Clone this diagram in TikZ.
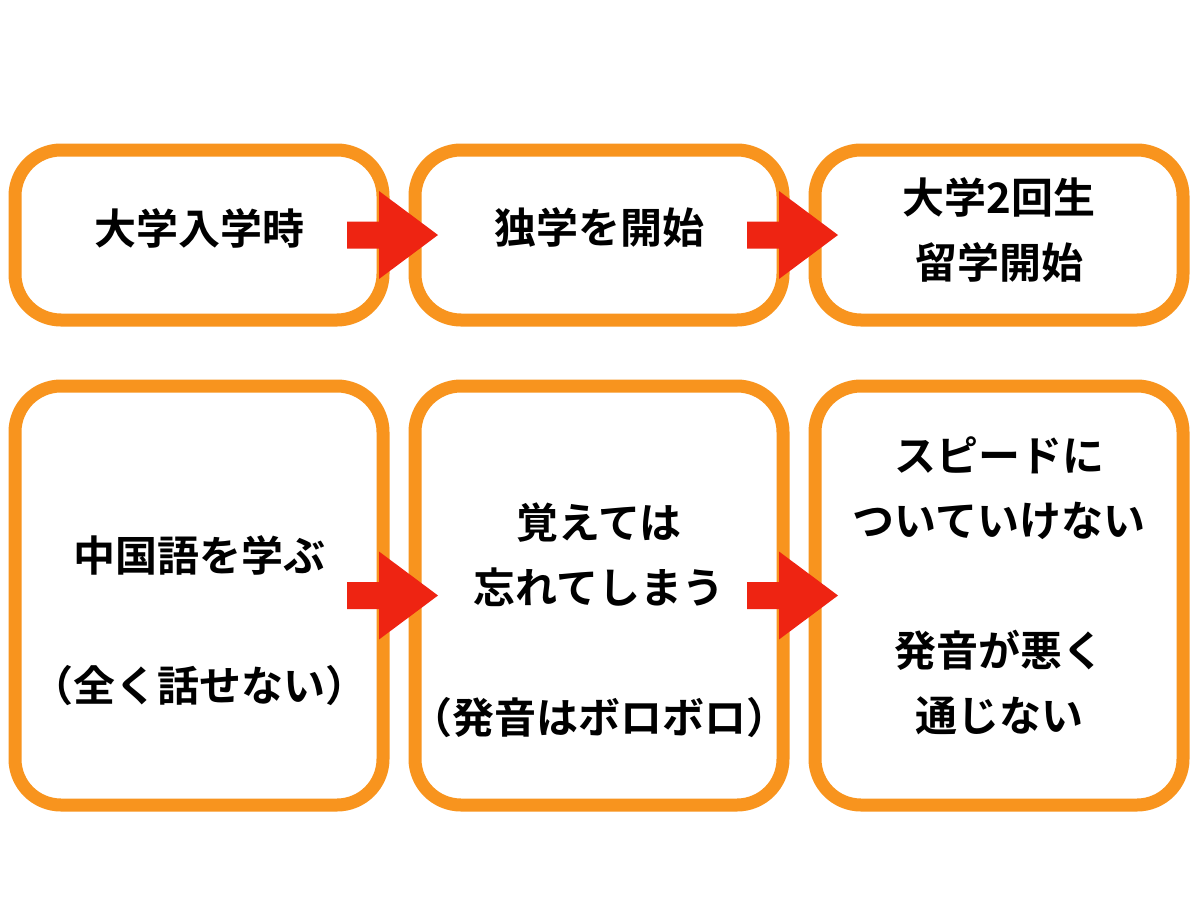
\documentclass[tikz,border=0pt]{standalone}
\usepackage{fontspec}
\usepackage{tikz}
\usetikzlibrary{positioning,calc}
\newfontfamily\jpfont{Noto Sans CJK JP Bold}
\definecolor{frameclr}{RGB}{248,148,30}
\definecolor{arrowclr}{RGB}{238,36,18}
\tikzset{
  stagebox/.style={rectangle,draw=frameclr,line width=13pt,fill=white,
                   rounded corners=46pt,minimum width=368pt,inner sep=0pt},
  topbox/.style={stagebox,minimum height=170pt},
  lowbox/.style={stagebox,minimum height=419pt},
  label/.style={align=center,inner sep=0pt,
                font=\jpfont\fontsize{42}{65}\selectfont},
}
% block arrow centred on a coordinate
\newcommand{\blockarrow}[1]{%
  \fill[arrowclr] ([shift={(-52,-13.5)}]#1) -- ([shift={(-20,-13.5)}]#1)
    -- ([shift={(-20,-44)}]#1) -- ([shift={(39,0)}]#1)
    -- ([shift={(-20,44)}]#1) -- ([shift={(-20,13.5)}]#1)
    -- ([shift={(-52,13.5)}]#1) -- cycle;}

\begin{document}
\begin{tikzpicture}[x=1pt,y=-1pt]
\useasboundingbox[fill=white] (0,0) rectangle (1200,900);

% top row
\node[topbox] (enter) at (199,235) {};
\node[topbox, right=19pt of enter] (self) {};
\node[topbox, right=19pt of self] (abroad) {};
% bottom row
\node[lowbox] (learn) at (199,595.5) {};
\node[lowbox, right=19pt of learn] (forget) {};
\node[lowbox, right=19pt of forget] (speed) {};

\node[label] (tenter) at ([yshift=7pt]enter.center) {大学入学時};
\node[label] (tself) at ([yshift=7pt]self.center) {独学を開始};
\node[label] (tabroad) at ([yshift=5pt]abroad.center) {大学2回生\\留学開始};

\node[label] (tlearn) at ([yshift=-25pt]learn.center)
  {中国語を学ぶ\\[65pt]（全く話せない）};
\node[label] (tforget) at ([yshift=-25pt]forget.center)
  {覚えては\\忘れてしまう\\[65pt]（発音はボロボロ）};
\node[label] (tspeed) at ([yshift=10pt]speed.center)
  {スピードに\\ついていけない\\[65pt]発音が悪く\\通じない};

% arrows between the boxes
\coordinate (m1) at ($(enter.east)!0.5!(self.west)$);
\coordinate (m2) at ($(self.east)!0.5!(abroad.west)$);
\coordinate (m3) at ($(learn.east)!0.5!(forget.west)$);
\coordinate (m4) at ($(forget.east)!0.5!(speed.west)$);
\blockarrow{m1}
\blockarrow{m2}
\blockarrow{m3}
\blockarrow{m4}
\end{tikzpicture}
\end{document}
